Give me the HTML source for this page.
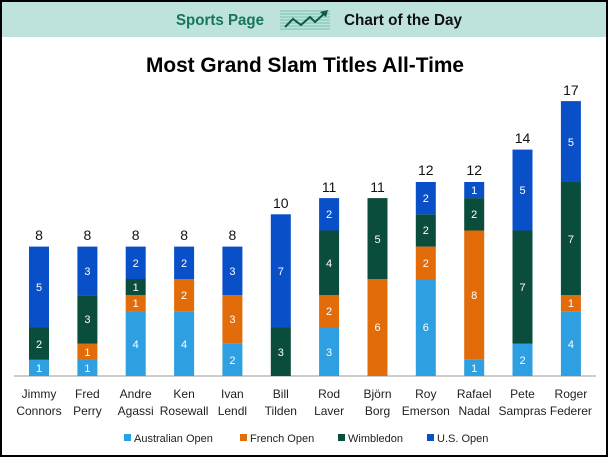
<!DOCTYPE html>
<html><head><meta charset="utf-8"><style>
html,body{margin:0;padding:0;background:#fff;}
svg{display:block;font-family:"Liberation Sans",sans-serif;}
</style></head><body>
<svg width="608" height="457" viewBox="0 0 608 457" xmlns="http://www.w3.org/2000/svg">
<rect x="0" y="0" width="608" height="457" fill="#fff"/>
<rect x="0" y="0" width="608" height="37" fill="#bde3dc"/>
<text x="176" y="25" font-size="16" font-weight="bold" fill="#17765a" textLength="88" lengthAdjust="spacingAndGlyphs">Sports Page</text>
<g stroke="#5fb59b" stroke-width="0.8">
<line x1="280" y1="11" x2="330" y2="11"/><line x1="280" y1="14" x2="330" y2="14"/><line x1="280" y1="17" x2="330" y2="17"/><line x1="280" y1="20" x2="330" y2="20"/><line x1="280" y1="23" x2="330" y2="23"/><line x1="280" y1="26" x2="330" y2="26"/><line x1="280" y1="29" x2="330" y2="29"/>
</g>
<polyline points="285,27 293,19 301,25 310,17 315,22 326,12" fill="none" stroke="#0d5a45" stroke-width="2"/>
<polygon points="328,10 320,12 326,17" fill="#0d5a45"/>
<text x="344" y="25" font-size="16" font-weight="bold" fill="#111" textLength="118" lengthAdjust="spacingAndGlyphs">Chart of the Day</text>
<text x="146" y="72" font-size="21" font-weight="bold" fill="#000" textLength="318" lengthAdjust="spacingAndGlyphs">Most Grand Slam Titles All-Time</text>
<line x1="14" y1="376" x2="596" y2="376" stroke="#999" stroke-width="1"/>
<g>
<rect x="29" y="359.8" width="20" height="16.2" fill="#2e9fe0"/>
<rect x="29" y="327.5" width="20" height="32.3" fill="#0a4d3c"/>
<rect x="29" y="246.6" width="20" height="80.9" fill="#0950c8"/>
<rect x="77.4" y="359.8" width="20" height="16.2" fill="#2e9fe0"/>
<rect x="77.4" y="343.7" width="20" height="16.2" fill="#e36c0a"/>
<rect x="77.4" y="295.2" width="20" height="48.5" fill="#0a4d3c"/>
<rect x="77.4" y="246.6" width="20" height="48.6" fill="#0950c8"/>
<rect x="125.7" y="311.3" width="20" height="64.7" fill="#2e9fe0"/>
<rect x="125.7" y="295.2" width="20" height="16.2" fill="#e36c0a"/>
<rect x="125.7" y="279" width="20" height="16.2" fill="#0a4d3c"/>
<rect x="125.7" y="246.6" width="20" height="32.4" fill="#0950c8"/>
<rect x="174.1" y="311.3" width="20" height="64.7" fill="#2e9fe0"/>
<rect x="174.1" y="279" width="20" height="32.3" fill="#e36c0a"/>
<rect x="174.1" y="246.6" width="20" height="32.4" fill="#0950c8"/>
<rect x="222.4" y="343.7" width="20" height="32.3" fill="#2e9fe0"/>
<rect x="222.4" y="295.2" width="20" height="48.5" fill="#e36c0a"/>
<rect x="222.4" y="246.6" width="20" height="48.6" fill="#0950c8"/>
<rect x="270.8" y="327.5" width="20" height="48.5" fill="#0a4d3c"/>
<rect x="270.8" y="214.3" width="20" height="113.2" fill="#0950c8"/>
<rect x="319.1" y="327.5" width="20" height="48.5" fill="#2e9fe0"/>
<rect x="319.1" y="295.2" width="20" height="32.3" fill="#e36c0a"/>
<rect x="319.1" y="230.5" width="20" height="64.7" fill="#0a4d3c"/>
<rect x="319.1" y="198.1" width="20" height="32.4" fill="#0950c8"/>
<rect x="367.5" y="279" width="20" height="97" fill="#e36c0a"/>
<rect x="367.5" y="198.1" width="20" height="80.9" fill="#0a4d3c"/>
<rect x="415.8" y="279" width="20" height="97" fill="#2e9fe0"/>
<rect x="415.8" y="246.6" width="20" height="32.4" fill="#e36c0a"/>
<rect x="415.8" y="214.3" width="20" height="32.3" fill="#0a4d3c"/>
<rect x="415.8" y="182" width="20" height="32.3" fill="#0950c8"/>
<rect x="464.2" y="359.8" width="20" height="16.2" fill="#2e9fe0"/>
<rect x="464.2" y="230.5" width="20" height="129.3" fill="#e36c0a"/>
<rect x="464.2" y="198.1" width="20" height="32.4" fill="#0a4d3c"/>
<rect x="464.2" y="182" width="20" height="16.1" fill="#0950c8"/>
<rect x="512.5" y="343.7" width="20" height="32.3" fill="#2e9fe0"/>
<rect x="512.5" y="230.5" width="20" height="113.2" fill="#0a4d3c"/>
<rect x="512.5" y="149.6" width="20" height="80.9" fill="#0950c8"/>
<rect x="560.9" y="311.3" width="20" height="64.7" fill="#2e9fe0"/>
<rect x="560.9" y="295.2" width="20" height="16.1" fill="#e36c0a"/>
<rect x="560.9" y="182" width="20" height="113.2" fill="#0a4d3c"/>
<rect x="560.9" y="101.1" width="20" height="80.9" fill="#0950c8"/>
</g>
<g font-size="11" fill="#fff" text-anchor="middle">
<text x="39" y="372">1</text><text x="39" y="348">2</text><text x="39" y="291">5</text>
<text x="87.4" y="372">1</text><text x="87.4" y="356">1</text><text x="87.4" y="323">3</text><text x="87.4" y="275">3</text>
<text x="135.7" y="348">4</text><text x="135.7" y="307">1</text><text x="135.7" y="291">1</text><text x="135.7" y="267">2</text>
<text x="184.1" y="348">4</text><text x="184.1" y="299">2</text><text x="184.1" y="267">2</text>
<text x="232.4" y="364">2</text><text x="232.4" y="323">3</text><text x="232.4" y="275">3</text>
<text x="280.8" y="356">3</text><text x="280.8" y="275">7</text>
<text x="329.1" y="356">3</text><text x="329.1" y="315">2</text><text x="329.1" y="267">4</text><text x="329.1" y="218">2</text>
<text x="377.5" y="331">6</text><text x="377.5" y="243">5</text>
<text x="425.8" y="331">6</text><text x="425.8" y="267">2</text><text x="425.8" y="234">2</text><text x="425.8" y="202">2</text>
<text x="474.2" y="372">1</text><text x="474.2" y="299">8</text><text x="474.2" y="218">2</text><text x="474.2" y="194">1</text>
<text x="522.5" y="364">2</text><text x="522.5" y="291">7</text><text x="522.5" y="194">5</text>
<text x="570.9" y="348">4</text><text x="570.9" y="307">1</text><text x="570.9" y="243">7</text><text x="570.9" y="146">5</text>
</g>
<g font-size="14" fill="#111" text-anchor="middle">
<text x="39" y="240">8</text><text x="87.4" y="240">8</text><text x="135.7" y="240">8</text><text x="184.1" y="240">8</text><text x="232.4" y="240">8</text>
<text x="280.8" y="208">10</text><text x="329.1" y="192">11</text><text x="377.5" y="192">11</text>
<text x="425.8" y="175">12</text><text x="474.2" y="175">12</text><text x="522.5" y="143">14</text><text x="570.9" y="95">17</text>
</g>
<g font-size="12" fill="#222" text-anchor="middle">
<text x="39" y="398">Jimmy</text><text x="39" y="415">Connors</text>
<text x="87.4" y="398">Fred</text><text x="87.4" y="415">Perry</text>
<text x="135.7" y="398">Andre</text><text x="135.7" y="415">Agassi</text>
<text x="184.1" y="398">Ken</text><text x="184.1" y="415">Rosewall</text>
<text x="232.4" y="398">Ivan</text><text x="232.4" y="415">Lendl</text>
<text x="280.8" y="398">Bill</text><text x="280.8" y="415">Tilden</text>
<text x="329.1" y="398">Rod</text><text x="329.1" y="415">Laver</text>
<text x="377.5" y="398">Björn</text><text x="377.5" y="415">Borg</text>
<text x="425.8" y="398">Roy</text><text x="425.8" y="415">Emerson</text>
<text x="474.2" y="398">Rafael</text><text x="474.2" y="415">Nadal</text>
<text x="522.5" y="398">Pete</text><text x="522.5" y="415">Sampras</text>
<text x="570.9" y="398">Roger</text><text x="570.9" y="415">Federer</text>
</g>
<g font-size="11" fill="#222">
<rect x="124" y="434" width="7" height="7" fill="#2e9fe0"/><text x="134" y="442">Australian Open</text>
<rect x="240" y="434" width="7" height="7" fill="#e36c0a"/><text x="250" y="442">French Open</text>
<rect x="338" y="434" width="7" height="7" fill="#0a4d3c"/><text x="348" y="442">Wimbledon</text>
<rect x="427" y="434" width="7" height="7" fill="#0950c8"/><text x="437" y="442">U.S. Open</text>
</g>
<rect x="1" y="1" width="606" height="455" fill="none" stroke="#000" stroke-width="2"/>
</svg>
</body></html>
